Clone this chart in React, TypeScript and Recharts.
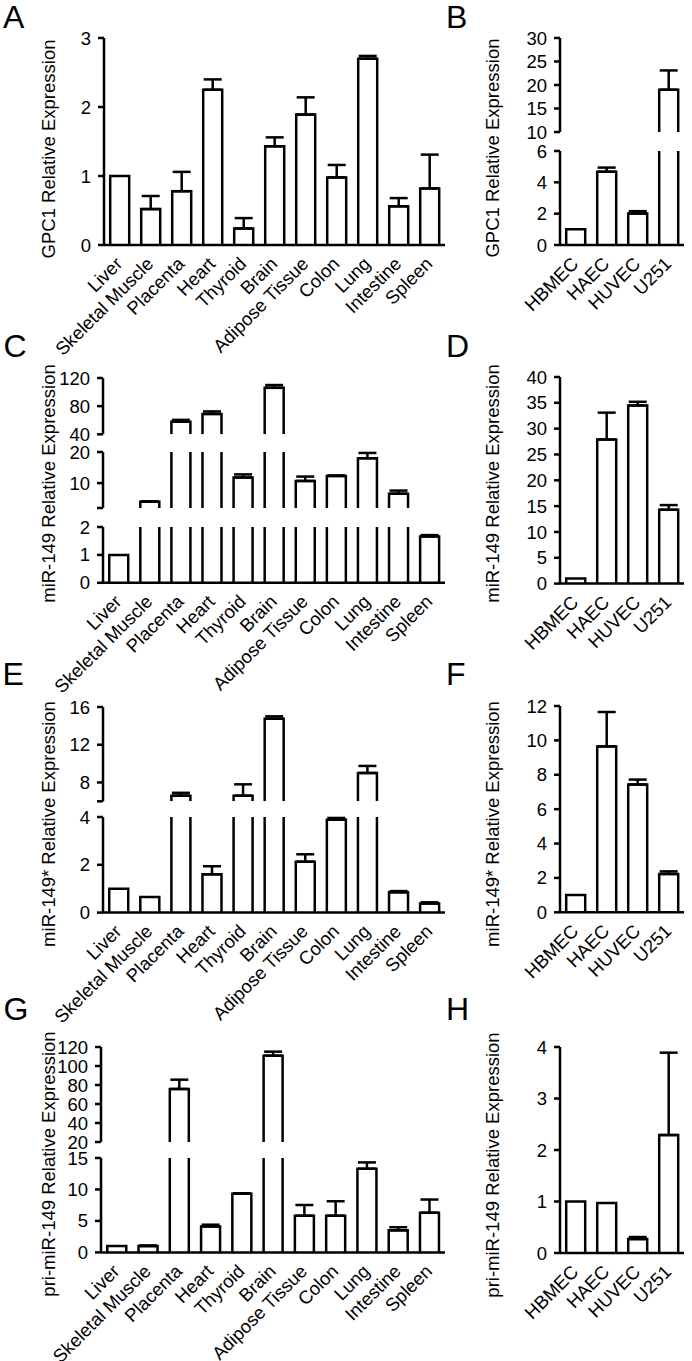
import React from 'react';
import { BarChart, Bar, XAxis, YAxis, ErrorBar } from 'recharts';

const FONT = '"Liberation Sans", Arial, Helvetica, sans-serif';
const FS = 18.5;
const SW = 2.5;

// ---------- categories ----------
const tissues = ['Liver', 'Skeletal Muscle', 'Placenta', 'Heart', 'Thyroid', 'Brain', 'Adipose Tissue', 'Colon', 'Lung', 'Intestine', 'Spleen'];
const cells = ['HBMEC', 'HAEC', 'HUVEC', 'U251'];

// ---------- series values (mean, + error) ----------
const gpc1TissueMean = [1.0, 0.52, 0.78, 2.25, 0.24, 1.43, 1.89, 0.98, 2.7, 0.56, 0.82];
const gpc1TissueErr = [0, 0.19, 0.28, 0.15, 0.15, 0.13, 0.25, 0.18, 0.04, 0.12, 0.49];

const gpc1CellMean = [1.0, 4.68, 2.01, 19.0];
const gpc1CellErr = [0, 0.26, 0.15, 4.1];

const mir149TissueMean = [1.0, 4.0, 58, 69, 11.8, 106, 10.7, 12.3, 18.0, 6.6, 1.66];
const mir149TissueErr = [0, 0.15, 2.5, 3.5, 1.0, 4, 1.4, 0.15, 1.7, 1.0, 0.05];

const mir149CellMean = [1.0, 27.9, 34.5, 14.3];
const mir149CellErr = [0, 5.2, 0.7, 0.9];

const mir149sTissueMean = [1.0, 0.65, 6.6, 1.6, 6.6, 14.76, 2.13, 3.89, 9.0, 0.85, 0.38];
const mir149sTissueErr = [0, 0, 0.3, 0.34, 1.2, 0.25, 0.31, 0.07, 0.75, 0.05, 0.05];

const mir149sCellMean = [1.0, 9.65, 7.43, 2.23];
const mir149sCellErr = [0, 2.0, 0.29, 0.15];

const priTissueMean = [1.0, 1.0, 75.8, 4.13, 9.33, 110.9, 5.83, 5.83, 13.3, 3.5, 6.3];
const priTissueErr = [0, 0.1, 9.8, 0.27, 0.07, 4.2, 1.7, 2.3, 1.0, 0.5, 2.1];

const priCellMean = [1.0, 0.97, 0.27, 2.29];
const priCellErr = [0, 0, 0.04, 1.6];

// ---------- tick values ----------
const aTicks = [0, 1, 2, 3];
const bTicksUpper = [10, 15, 20, 25, 30];
const bTicksLower = [0, 2, 4, 6];
const cTicksTop = [40, 80, 120];
const cTicksMid = [2, 10, 20];
const cTicksBot = [0, 1, 2];
const cMidUnlabelled = [2];
const dTicks = [0, 5, 10, 15, 20, 25, 30, 35, 40];
const eTicksTop = [6, 8, 12, 16];
const eTopUnlabelled = [6];
const eTicksBot = [0, 2, 4];
const fTicks = [0, 2, 4, 6, 8, 10, 12];
const gTicksTop = [20, 40, 60, 80, 100, 120];
const gTicksBot = [0, 5, 10, 15];
const hTicks = [0, 1, 2, 3, 4];

// ---------- text ----------
const yLabels = {
  A: 'GPC1 Relative Expression',
  B: 'GPC1 Relative Expression',
  C: 'miR-149 Relative Expression',
  D: 'miR-149 Relative Expression',
  E: 'miR-149* Relative Expression',
  F: 'miR-149* Relative Expression',
  G: 'pri-miR-149 Relative Expression',
  H: 'pri-miR-149 Relative Expression',
};

const YW = 60;
const XH = 140;
const MT = 14;
const MB = 14;

const makeShape = (segTop: number, segBottom: number) => (props: any) => {
  const { x, y, width, height } = props;
  if (x == null || y == null || !width) return <g />;
  const t = Math.min(y, y + height);
  const b0 = Math.max(y, y + height);
  if (t >= segBottom - 0.5) return <g />;
  const top = Math.max(t, segTop);
  const b = Math.min(b0, segBottom);
  const open = t < segTop - 0.5;
  const d = open
    ? `M${x},${b} L${x},${top} M${x + width},${top} L${x + width},${b}`
    : `M${x},${b} L${x},${top} L${x + width},${top} L${x + width},${b}`;
  return (
    <g>
      <rect x={x} y={top} width={width} height={b - top} fill="#fff" />
      <path d={d} stroke="#000" strokeWidth={SW} fill="none" strokeLinejoin="miter" />
    </g>
  );
};

const AngledTick = (props: any) => {
  const { x, y, payload } = props;
  const ax = x + 4;
  const ay = y + 20;
  return (
    <g transform={`translate(${ax},${ay}) rotate(-45)`}>
      <text x={0} y={0} textAnchor="end" style={{ fontSize: FS, fontFamily: FONT }} fill="#000">
        {payload.value}
      </text>
    </g>
  );
};

type SegProps = {
  names: string[];
  means: number[];
  errs: number[];
  domain: [number, number];
  ticks: number[];
  blank?: number[];
  top: number;
  bottom: number;
  axisX: number;
  right: number;
  showX: boolean;
};

function Segment({ names, means, errs, domain, ticks, blank = [], top, bottom, axisX, right, showX }: SegProps) {
  const [lo, hi] = domain;
  const data = names.map((n, i) => ({
    name: n,
    v: means[i],
    e: errs[i] > 0 && means[i] > lo && means[i] <= hi ? [0, errs[i]] : null,
  }));
  const plotH = bottom - top;
  const width = YW + (right - axisX) + 12;
  const height = MT + plotH + MB + (showX ? XH : 0);
  return (
    <div style={{ position: 'absolute', left: axisX - YW, top: top - MT }}>
      <BarChart
        width={width}
        height={height}
        data={data}
        margin={{ top: MT, right: 12, left: 0, bottom: MB }}
        barCategoryGap="20%"
      >
        <XAxis
          dataKey="name"
          hide={!showX}
          height={showX ? XH : 0}
          interval={0}
          axisLine={{ stroke: '#000', strokeWidth: SW }}
          tickLine={false}
          tickSize={0}
          tickMargin={0}
          tick={<AngledTick />}
        />
        <YAxis
          type="number"
          width={YW}
          domain={domain}
          ticks={ticks}
          allowDataOverflow
          interval={0}
          axisLine={{ stroke: '#000', strokeWidth: SW }}
          tickLine={{ stroke: '#000', strokeWidth: SW }}
          tickSize={6}
          tickMargin={7}
          tick={{ fill: '#000', fontSize: FS, fontFamily: FONT }}
          tickFormatter={(v: number) => (blank.includes(v) ? '' : String(v))}
        />
        <Bar dataKey="v" isAnimationActive={false} shape={makeShape(MT, MT + plotH)}>
          <ErrorBar dataKey="e" width={9} stroke="#000" strokeWidth={SW} isAnimationActive={false} />
        </Bar>
      </BarChart>
    </div>
  );
}

const TL = { axisX: 103, right: 445 };
const TR = { axisX: 560, right: 684 };

export default function App() {
  return (
    <div style={{ position: 'absolute', left: 0, top: 0, width: 692, height: 1361, background: '#fff', overflow: 'hidden', fontFamily: FONT }}>
      {/* A */}
      <Segment names={tissues} means={gpc1TissueMean} errs={gpc1TissueErr} domain={[0, 3]} ticks={aTicks} top={38} bottom={245} axisX={104} right={445} showX />
      {/* B */}
      <Segment names={cells} means={gpc1CellMean} errs={gpc1CellErr} domain={[10, 30]} ticks={bTicksUpper} top={38} bottom={132} {...TR} showX={false} />
      <Segment names={cells} means={gpc1CellMean} errs={gpc1CellErr} domain={[0, 6]} ticks={bTicksLower} top={151} bottom={245} {...TR} showX />
      {/* C */}
      <Segment names={tissues} means={mir149TissueMean} errs={mir149TissueErr} domain={[40, 120]} ticks={cTicksTop} top={377.7} bottom={434} {...TL} showX={false} />
      <Segment names={tissues} means={mir149TissueMean} errs={mir149TissueErr} domain={[2, 20]} ticks={cTicksMid} blank={cMidUnlabelled} top={452} bottom={508} {...TL} showX={false} />
      <Segment names={tissues} means={mir149TissueMean} errs={mir149TissueErr} domain={[0, 2]} ticks={cTicksBot} top={526.7} bottom={582.5} {...TL} showX />
      {/* D */}
      <Segment names={cells} means={mir149CellMean} errs={mir149CellErr} domain={[0, 40]} ticks={dTicks} top={376.7} bottom={583.3} {...TR} showX />
      {/* E */}
      <Segment names={tissues} means={mir149sTissueMean} errs={mir149sTissueErr} domain={[6, 16]} ticks={eTicksTop} blank={eTopUnlabelled} top={706.7} bottom={801} {...TL} showX={false} />
      <Segment names={tissues} means={mir149sTissueMean} errs={mir149sTissueErr} domain={[0, 4]} ticks={eTicksBot} top={816.7} bottom={912.3} {...TL} showX />
      {/* F */}
      <Segment names={cells} means={mir149sCellMean} errs={mir149sCellErr} domain={[0, 12]} ticks={fTicks} top={705.7} bottom={912} {...TR} showX />
      {/* G */}
      <Segment names={tissues} means={priTissueMean} errs={priTissueErr} domain={[20, 120]} ticks={gTicksTop} top={1047.3} bottom={1142.3} axisX={101} right={445} showX={false} />
      <Segment names={tissues} means={priTissueMean} errs={priTissueErr} domain={[0, 15]} ticks={gTicksBot} top={1158.3} bottom={1252.7} axisX={101} right={445} showX />
      {/* H */}
      <Segment names={cells} means={priCellMean} errs={priCellErr} domain={[0, 4]} ticks={hTicks} top={1046.7} bottom={1252.7} {...TR} showX />

      <svg width={692} height={1361} style={{ position: 'absolute', left: 0, top: 0, pointerEvents: 'none' }}>
        <g fontFamily={FONT} fill="#000">
          <text x={3} y={28.3} fontSize={32}>A</text>
          <text x={446} y={28.3} fontSize={32}>B</text>
          <text x={3.5} y={356.7} fontSize={32}>C</text>
          <text x={446} y={356.7} fontSize={32}>D</text>
          <text x={2.5} y={685} fontSize={32}>E</text>
          <text x={446} y={685} fontSize={32}>F</text>
          <text x={3.5} y={1020} fontSize={32}>G</text>
          <text x={446} y={1020} fontSize={32}>H</text>
        </g>
        <g fontFamily={FONT} fill="#000" fontSize={FS} textAnchor="middle" dominantBaseline="central">
          <text x={48} y={149} transform="rotate(-90 48 149)">{yLabels.A}</text>
          <text x={492} y={148} transform="rotate(-90 492 148)">{yLabels.B}</text>
          <text x={48} y={483.5} transform="rotate(-90 48 483.5)">{yLabels.C}</text>
          <text x={492} y={483.5} transform="rotate(-90 492 483.5)">{yLabels.D}</text>
          <text x={48} y={824} transform="rotate(-90 48 824)">{yLabels.E}</text>
          <text x={492} y={824} transform="rotate(-90 492 824)">{yLabels.F}</text>
          <text x={48} y={1164} transform="rotate(-90 48 1164)">{yLabels.G}</text>
          <text x={492} y={1165} transform="rotate(-90 492 1165)">{yLabels.H}</text>
        </g>
      </svg>
    </div>
  );
}
